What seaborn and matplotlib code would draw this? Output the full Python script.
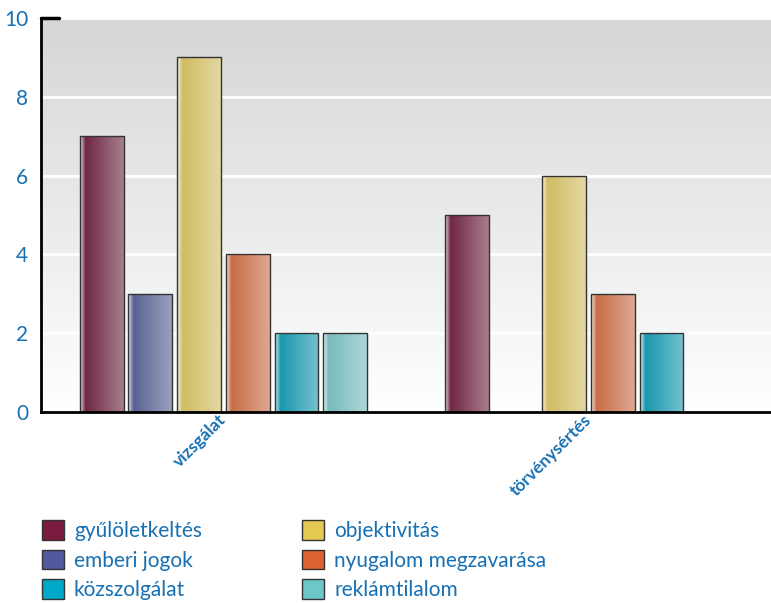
import numpy as np
import pandas as pd
import matplotlib
matplotlib.use('Agg')
import matplotlib.pyplot as plt
import matplotlib.colors as mcolors
from matplotlib.patches import Patch
import seaborn as sns

# data
categories = ['vizsgálat', 'törvénysértés']
topics = ['gyűlöletkeltés', 'emberi jogok', 'objektivitás',
          'nyugalom megzavarása', 'közszolgálat', 'reklámtilalom']
vizsgalat = [7, 3, 9, 4, 2, 2]
torvenysertes = [5, 0, 6, 3, 2, 0]
colors = ['#7b1b40', '#505a9c', '#e3c852', '#dc6533', '#00a9c7', '#6cc7c9']
yticks = [0, 2, 4, 6, 8, 10]

rows = []
for cat, vals in zip(categories, [vizsgalat, torvenysertes]):
    for t, v in zip(topics, vals):
        if v > 0:
            rows.append({'kategoria': cat, 'tema': t, 'db': v})
df = pd.DataFrame(rows)

sns.set_style('white')
plt.rcParams['font.family'] = ['Lato', 'DejaVu Sans']
blue = '#1770b3'

fig = plt.figure(figsize=(7.71, 6.03), dpi=100)
ax = fig.add_axes([0.053, 0.317, 0.947, 0.653])

sns.barplot(data=df, x='kategoria', y='db', hue='tema', order=categories,
            hue_order=topics, palette=colors, width=0.8, gap=0.1,
            edgecolor='#333333', linewidth=1, legend=False, ax=ax)


def shade(base, n=64):
    # light sliver on the left, dark core, lighter towards the right
    t = np.linspace(0, 1, n)
    mix = np.where(t < 0.12, 0.8 * (1 - t / 0.12), 0.4 * (t - 0.12) / 0.88)
    return base[None, :] * (1 - mix[:, None]) + mix[:, None]


for p in list(ax.patches):
    h = p.get_height()
    if h <= 0:
        continue
    base = np.array(mcolors.to_rgb(p.get_facecolor()))
    img = ax.imshow(shade(base)[None, :, :], extent=(p.get_x(), p.get_x() + p.get_width(), 0, h),
                    aspect='auto', origin='lower', zorder=p.get_zorder() + 0.1,
                    interpolation='bilinear')
    img.set_clip_path(p)
    p.set_facecolor('none')
    p.set_zorder(p.get_zorder() + 0.2)

# grey background gradient
bg = np.linspace(0.84, 1.0, 100)[:, None] * np.ones((1, 2))
bg_rgb = np.stack([bg * 0.995, bg, bg], axis=-1)
ax.imshow(np.clip(bg_rgb, 0, 1)[::-1], extent=(0, 1, 0, 1), transform=ax.transAxes,
          aspect='auto', zorder=0, origin='lower')

ax.set_xlim(-0.5, 1.5)
ax.set_ylim(0, 10)
ax.set_yticks(yticks)
ax.yaxis.grid(True, color='white', linewidth=2)
ax.set_axisbelow(True)

for s in ['top', 'right']:
    ax.spines[s].set_visible(False)
for s in ['left', 'bottom']:
    ax.spines[s].set_color('black')
    ax.spines[s].set_linewidth(2)
ax.axhline(10, xmax=0.025, color='black', linewidth=2.5, zorder=5, clip_on=False)

ax.set_xlabel('')
ax.set_ylabel('')
ax.tick_params(axis='y', length=0, labelsize=15, labelcolor=blue, pad=9)
ax.tick_params(axis='x', which='major', length=0, pad=4)
ax.set_xticks([0.5], minor=True)
ax.tick_params(axis='x', which='minor', direction='in', length=8, width=2, color='black')
ax.set_xticks(range(len(categories)))
ax.set_xticklabels(categories, rotation=45, ha='right', va='center', rotation_mode='anchor',
                   color=blue, fontweight='bold', fontsize=12.5)

handles = [Patch(facecolor=c, edgecolor='#333333', linewidth=1) for c in colors]
order = [0, 1, 4, 2, 3, 5]
fig.legend([handles[i] for i in order], [topics[i] for i in order],
           loc='upper left', bbox_to_anchor=(0.054, 0.137), ncol=2, frameon=False,
           fontsize=15, labelcolor=blue, handlelength=1.05, handleheight=1.05,
           handletextpad=0.5, labelspacing=0.42, columnspacing=4.8, borderaxespad=0,
           borderpad=0)

fig.savefig('out.png', dpi=100)
